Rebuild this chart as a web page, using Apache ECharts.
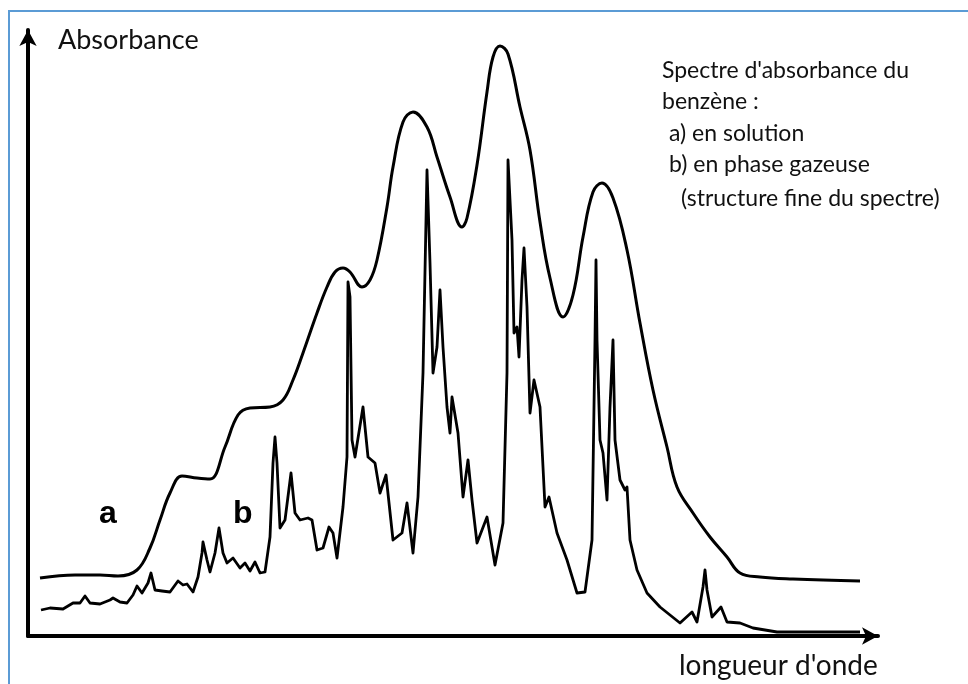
<!DOCTYPE html>
<html><head><meta charset="utf-8">
<script src="https://cdn.jsdelivr.net/npm/echarts@6/dist/echarts.min.js"></script>
<style>html,body{margin:0;padding:0;background:#fff}#c{width:968px;height:684px}</style>
</head><body><div id="c"></div>
<script>
// Curve a: benzene in solution (x = wavelength, arbitrary units; y = absorbance, arbitrary units)
const aX = [40,75,100,118,137,150,160,170,182,197,210,225,238,250,270,283,293,303,317,327,335,343,350,362,370,377,387,393,403,413,427,437,450,462,467,477,487,493,500,508,520,530,540,550,563,573,583,593,602,613,627,640,653,667,677,693,710,727,740,760,793,860];
const aY = [58,61,61,60,66,88,116,143,160,158,157,189,221,228,229,236,256,283,323,349,364,368,364,349,356,376,429,469,514,524,509,479,439,409,418,471,544,579,590,582,529,486,414,358,319,341,399,444,453,438,386,313,246,189,149,123,99,79,63,59,57,55];
// Curve b: benzene in gas phase (fine structure)
const bX = [41,50,63,73,80,85,90,100,110,113,120,127,133,137,142,148,151,155,162,170,178,183,187,193,198,202,203,207,210,215,219,223,227,233,240,245,250,255,260,265,270,273,275,277,280,285,291,295,300,308,312,317,323,329,333,337,343,347,348,350,352,355,363,368,375,380,386,393,402,407,413,418,423,427,430,433,437,440,443,447,450,452,458,463,468,472,477,487,495,503,507,508,512,514,517,519,522,524,527,530,534,540,545,549,557,567,577,585,592,595,596,597,600,603,607,610,613,615,620,625,627,630,637,647,660,680,692,697,703,705,707,712,721,727,740,753,777,860];
const bY = [26,28,27,33,33,40,33,32,36,38,34,33,41,50,43,53,63,46,45,44,55,51,52,44,59,83,94,76,64,83,108,83,73,78,68,73,65,74,63,64,99,173,199,173,108,116,163,123,116,118,116,86,88,109,103,78,129,179,354,339,196,179,229,179,173,143,161,96,103,133,83,139,263,466,373,263,289,346,289,229,203,239,203,139,176,136,93,119,71,113,263,476,396,303,309,279,356,388,329,223,256,229,129,139,103,76,43,44,96,296,376,296,196,183,136,229,296,196,156,146,149,96,66,43,29,13,24,14,49,66,46,19,29,14,13,8,4,4];
const labelA = 'a', labelB = 'b';
const yTitle = 'Absorbance', xTitle = "longueur d'onde";
const legendLines = ["Spectre d'absorbance du", 'benzène :', 'a) en solution', 'b) en phase gazeuse', '(structure fine du spectre)'];

const zip = (xs, ys) => xs.map((x, i) => [x, ys[i]]);
const chart = echarts.init(document.getElementById('c'), null, {renderer: 'canvas'});
const font = 'Lato, "Noto Sans", sans-serif';
const axisCommon = {
  axisTick: {show: false}, axisLabel: {show: false}, splitLine: {show: false},
  axisLine: {show: true, symbol: ['none', 'arrow'], symbolSize: [13, 16], lineStyle: {color: '#000', width: 4}}
};
const legendPos = [[662, 71], [662, 102], [669, 134], [669, 165], [681, 199]];
chart.setOption({
  animation: false,
  grid: {left: 28, right: 90, top: 30, bottom: 48},
  xAxis: Object.assign({type: 'value', min: 28, max: 878}, axisCommon),
  yAxis: Object.assign({type: 'value', min: 0, max: 606}, axisCommon),
  series: [
    {type: 'line', data: zip(aX, aY), smooth: 0.4, symbol: 'none', lineStyle: {color: '#000', width: 3}},
    {type: 'line', data: zip(bX, bY), smooth: false, symbol: 'none', lineStyle: {color: '#000', width: 2.8, join: 'round'}}
  ],
  graphic: [
    {type: 'polyline', shape: {points: [[9, 684], [9, 11], [968, 11]]}, style: {stroke: '#5b9bd5', lineWidth: 2, fill: null}},
    {type: 'text', x: 58, y: 40, style: {text: yTitle, font: '27px ' + font, fill: '#111', textVerticalAlign: 'middle'}},
    {type: 'text', x: 679, y: 666, style: {text: xTitle, font: '28px ' + font, fill: '#111', textVerticalAlign: 'middle'}},
    {type: 'text', x: 99, y: 514, style: {text: labelA, font: 'bold 32px "Liberation Sans", Arial, sans-serif', fill: '#000', textVerticalAlign: 'middle'}},
    {type: 'text', x: 233, y: 514, style: {text: labelB, font: 'bold 32px "Liberation Sans", Arial, sans-serif', fill: '#000', textVerticalAlign: 'middle'}}
  ].concat(legendLines.map((t, i) => ({
    type: 'text', x: legendPos[i][0], y: legendPos[i][1],
    style: {text: t, font: '23px ' + font, fill: '#111', textVerticalAlign: 'middle'}
  })))
});
</script></body></html>
